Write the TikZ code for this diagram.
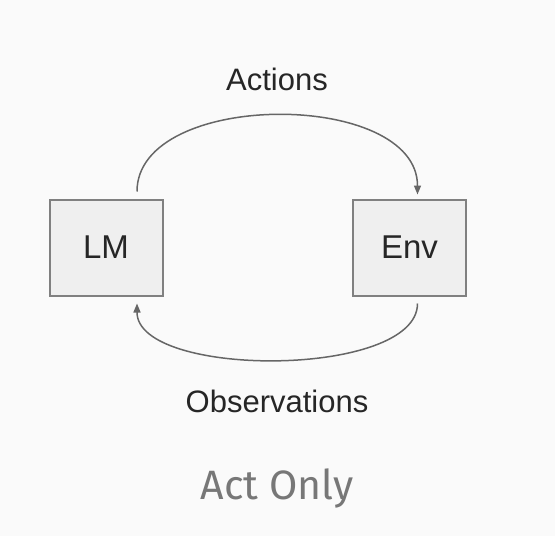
\documentclass[tikz,border=0pt]{standalone}
\usepackage{fontspec}
\setmainfont{Liberation Sans}
\newfontfamily\titlefont{Fira Sans}
\usetikzlibrary{arrows.meta}
\definecolor{bg}{HTML}{FAFAFA}
\definecolor{boxfill}{HTML}{EFEFEF}
\definecolor{boxline}{HTML}{808080}
\definecolor{arrline}{HTML}{666666}
\definecolor{titlegray}{HTML}{777777}
\tikzset{
  box/.style={draw=boxline, line width=2pt, fill=boxfill, minimum width=113pt, minimum height=96pt, inner sep=0pt, font=\fontsize{33}{38}\selectfont, text=black!85},
  lbl/.style={font=\fontsize{31}{36}\selectfont, text=black!85, inner sep=0pt},
  arr/.style={draw=arrline, line width=1.5pt, -{Triangle[length=9pt,width=7pt]}}
}
\begin{document}
\begin{tikzpicture}[x=1pt,y=-1pt]
\fill[bg] (0,0) rectangle (555,536);
\useasboundingbox (0,0) rectangle (555,536);
\node[box] (LM) at (106,247.5) {LM};
\node[box] (Env) at (409.5,247.5) {Env};
\node[lbl] (act) at (277,79) {Actions};
\node[lbl] (obs) at (277,401) {Observations};
\node[font=\titlefont\fontsize{41}{46}\selectfont, text=titlegray, inner sep=0pt] (title) at (277,488) {Act Only};
\coordinate (a1) at ([xshift=31pt,yshift=7pt]LM.north);
\coordinate (a2) at ([xshift=8pt,yshift=4pt]Env.north);
\coordinate (b1) at ([xshift=8pt,yshift=-7pt]Env.south);
\coordinate (b2) at ([xshift=31pt,yshift=-7pt]LM.south);
\draw[arr] (a1) .. controls +(0,-102) and +(0,-105) .. (a2);
\draw[arr] (b1) .. controls +(0,75) and +(0,75) .. (b2);
\end{tikzpicture}
\end{document}
